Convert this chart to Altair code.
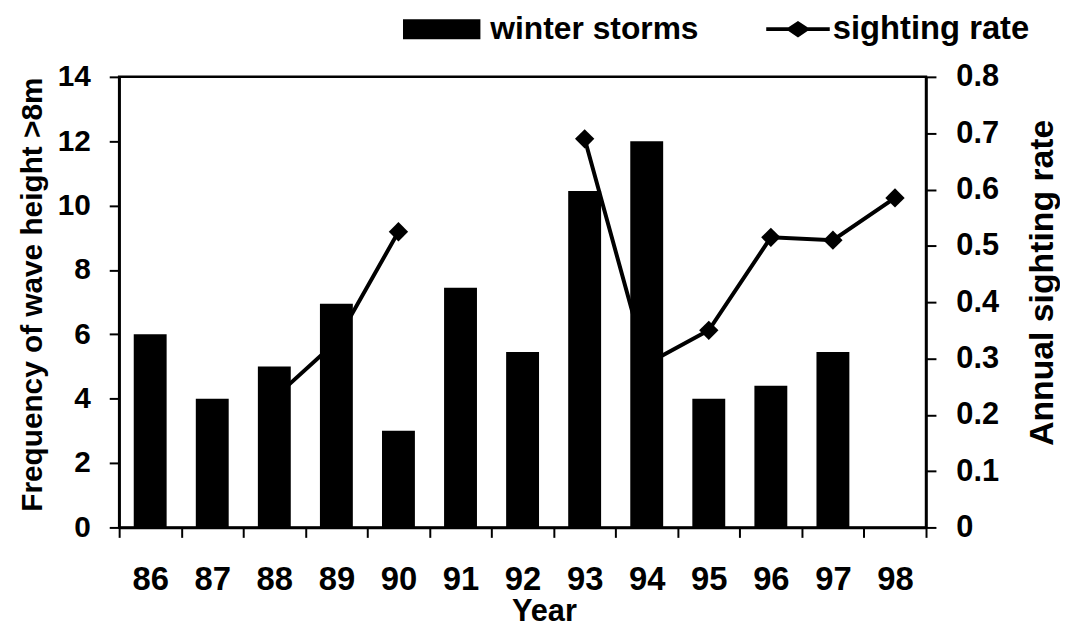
import altair as alt
import pandas as pd

# ---- data ----
years = ['86', '87', '88', '89', '90', '91', '92', '93', '94', '95', '96', '97', '98']
storms = [6.0, 4.0, 5.0, 6.95, 3.0, 7.45, 5.45, 10.45, 12.0, 4.0, 4.4, 5.45, None]
rate = [None, None, 0.23, 0.33, 0.525, None, None, 0.69, 0.29, 0.35, 0.515, 0.51, 0.585]
storm_ticks = [0, 2, 4, 6, 8, 10, 12, 14]
rate_ticks = [0, 0.1, 0.2, 0.3, 0.4, 0.5, 0.6, 0.7, 0.8]

# line segments (the line is broken where the rate is missing)
segment = []
seg_id = 0
prev = None
for r in rate:
    if r is None:
        segment.append(None)
    else:
        if prev is None:
            seg_id += 1
        segment.append(seg_id)
    prev = r

df = pd.DataFrame({
    'year': years,
    'storms': storms,
    'rate': rate,
    'segment': segment,
    'bar_series': 'winter storms',
    'line_series': 'sighting rate',
})

FONT = 'Liberation Sans'

x_enc = alt.X(
    'year:N', sort=years, title='Year',
    scale=alt.Scale(paddingInner=0, paddingOuter=0),
    axis=alt.Axis(
        labelAngle=0, tickBand='extent', tickSize=10, tickWidth=2, tickColor='black',
        domainColor='black', domainWidth=2.5,
        labelFont=FONT, labelFontSize=33, labelFontWeight='bold', labelColor='black',
        labelBaseline='alphabetic', labelPadding=53,
        titleFont=FONT, titleFontSize=31, titleFontWeight='bold', titleColor='black',
        titleX=428, titleY=94, titleBaseline='alphabetic', titleAlign='center',
    ),
)

rate_y = alt.Y(
    'rate:Q', title='Annual sighting rate',
    scale=alt.Scale(domain=[0, 0.8], nice=False, zero=True),
    axis=alt.Axis(
        orient='right', values=rate_ticks, format='.1~f', grid=False,
        tickSize=10, tickWidth=2, tickColor='black', domainColor='black', domainWidth=2.5,
        labelFont=FONT, labelFontSize=31, labelFontWeight='bold', labelColor='black',
        labelPadding=20,
        titleFont=FONT, titleFontSize=34, titleFontWeight='bold', titleColor='black',
        titleAngle=270, titleX=127, titleY=207, titleAlign='center', titleBaseline='alphabetic',
    ),
)

storm_y = alt.Y(
    'storms:Q', title='Frequency of wave height >8m',
    scale=alt.Scale(domain=[0, 14], nice=False, zero=True),
    axis=alt.Axis(
        orient='left', values=storm_ticks, grid=False,
        tickSize=10, tickWidth=2, tickColor='black', domainColor='black', domainWidth=2.5,
        labelFont=FONT, labelFontSize=30, labelFontWeight='bold', labelColor='black',
        labelPadding=19,
        titleFont=FONT, titleFontSize=30, titleFontWeight='bold', titleColor='black',
        titleAngle=270, titleX=-78, titleY=219, titleAlign='center', titleBaseline='alphabetic',
    ),
)

LINE_SYMBOL = ('M-1,-0.06L-0.3,-0.06L0,-0.26L0.3,-0.06L1,-0.06L1,0.06L0.3,0.06'
               'L0,0.26L-0.3,0.06L-1,0.06Z')
BAR_SYMBOL = 'M-1,-0.26H1V0.26H-1Z'

base = alt.Chart(df)

line = base.transform_filter('isValid(datum.rate)').mark_line(
    color='black', strokeWidth=4
).encode(x=x_enc, y=rate_y, detail='segment:N')

points = base.transform_filter('isValid(datum.rate)').mark_point(
    shape='diamond', filled=True, size=380, opacity=1
).encode(
    x=x_enc, y=rate_y,
    color=alt.Color(
        'line_series:N',
        scale=alt.Scale(domain=['sighting rate'], range=['black']),
        legend=alt.Legend(
            orient='none', legendX=652, legendY=-80, title=None, padding=0,
            symbolType=LINE_SYMBOL, symbolSize=4096, symbolStrokeWidth=0,
            labelFont=FONT, labelFontSize=33, labelFontWeight='bold', labelColor='black',
            labelOffset=3, labelLimit=400,
        ),
    ),
)

bars = base.transform_filter('isValid(datum.storms)').mark_bar(
    width={'band': 0.53}, opacity=1
).encode(
    x=x_enc, y=storm_y,
    color=alt.Color(
        'bar_series:N',
        scale=alt.Scale(domain=['winter storms'], range=['black']),
        legend=alt.Legend(
            orient='none', legendX=286, legendY=-87, title=None, padding=0,
            symbolType=BAR_SYMBOL, symbolSize=6084, symbolStrokeWidth=0,
            labelFont=FONT, labelFontSize=32, labelFontWeight='bold', labelColor='black',
            labelOffset=10, labelLimit=400,
        ),
    ),
)

chart = alt.layer(
    alt.layer(line, points),
    bars,
).resolve_scale(
    y='independent', color='independent'
).properties(
    width=813, height=454,
    autosize=alt.AutoSizeParams(type='none'),
    padding={'left': 112, 'top': 67, 'right': 135, 'bottom': 104},
    background='white',
).configure_view(
    stroke='black', strokeWidth=2.5
)

chart.save('out.html', embed_options={'renderer': 'svg', 'actions': False})
